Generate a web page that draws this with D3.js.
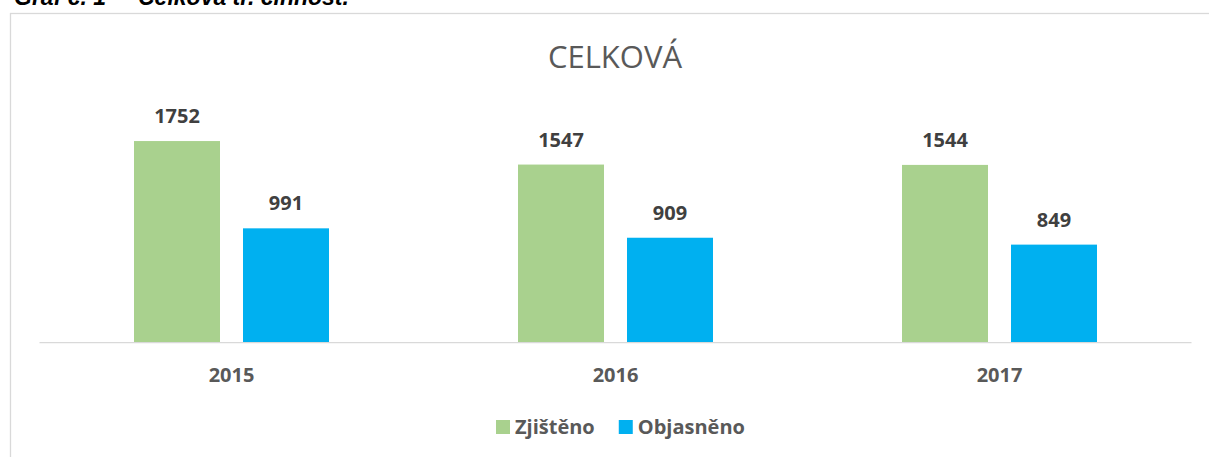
<!DOCTYPE html>
<html lang="cs">
<head>
<meta charset="utf-8">
<script src="https://cdnjs.cloudflare.com/ajax/libs/d3/7.8.5/d3.min.js"></script>
<style>
body { margin: 0; background: #fff; }
svg { display: block; font-family: "Open Sans", sans-serif; }
</style>
</head>
<body>
<script>
var years = ["2015", "2016", "2017"]
var seriesNames = ["Zjištěno", "Objasněno"]
var zjisteno = [1752, 1547, 1544]
var objasneno = [991, 909, 849]
var colors = ["#a9d18e", "#00b0f0"]

var w = 1209, h = 457
var svg = d3.select("body").append("svg").attr("width", w).attr("height", h)

// caption above the chart, mostly cut off
svg.append("text")
    .attr("x", 14).attr("y", 5)
    .attr("font-family", "Liberation Sans, Arial, sans-serif")
    .attr("font-style", "italic").attr("font-weight", "bold")
    .attr("font-size", 23).attr("fill", "#000")
    .attr("xml:space", "preserve")
    .text("Graf č. 1 –  Celková tr. činnost.")

// chart frame
svg.append("rect")
    .attr("x", 10.5).attr("y", 13.5)
    .attr("width", 1210).attr("height", 460)
    .attr("fill", "#fff").attr("stroke", "#d9d9d9").attr("stroke-width", 1.3)

svg.append("text")
    .attr("x", 615).attr("y", 68)
    .attr("text-anchor", "middle")
    .attr("font-size", 31).attr("fill", "#595959")
    .text("CELKOVÁ")

var x0 = d3.scaleBand().domain(years).range([39.5, 1191.5])
var y = d3.scaleLinear().domain([0, 2000]).range([342, 342 - 229.4])

var barW = 86, gap = 23
var data = years.map(function(yr, i) {
    return { year: yr, values: [zjisteno[i], objasneno[i]] }
})

var groups = svg.selectAll("g.year")
    .data(data)
    .enter()
    .append("g")
    .attr("class", "year")
    .attr("transform", function(d) {
        return "translate(" + (x0(d.year) + x0.bandwidth() / 2) + ",0)"
    })

groups.selectAll("rect")
    .data(function(d) { return d.values })
    .enter()
    .append("rect")
    .attr("x", function(d, i) { return i === 0 ? -barW - gap / 2 : gap / 2 })
    .attr("y", function(d) { return y(d) })
    .attr("width", barW)
    .attr("height", function(d) { return y(0) - y(d) })
    .attr("fill", function(d, i) { return colors[i] })

groups.selectAll("text.val")
    .data(function(d) { return d.values })
    .enter()
    .append("text")
    .attr("class", "val")
    .attr("x", function(d, i) { return i === 0 ? -barW / 2 - gap / 2 : barW / 2 + gap / 2 })
    .attr("y", function(d) { return y(d) - 18 })
    .attr("text-anchor", "middle")
    .attr("font-size", 20).attr("font-weight", "bold").attr("fill", "#404040")
    .text(function(d) { return d })

// baseline
svg.append("line")
    .attr("x1", 39.5).attr("x2", 1191.5)
    .attr("y1", 342.7).attr("y2", 342.7)
    .attr("stroke", "#d9d9d9").attr("stroke-width", 1.3)

var xAxis = d3.axisBottom(x0).tickSize(0).tickPadding(0)
var ax = svg.append("g").attr("transform", "translate(0,382)").call(xAxis)
ax.select(".domain").remove()
ax.selectAll("text")
    .attr("dy", 0)
    .attr("font-family", "Open Sans, sans-serif")
    .attr("font-size", 20).attr("font-weight", "bold").attr("fill", "#595959")

// legend
var legend = svg.append("g")
var lx = 496
seriesNames.forEach(function(name, i) {
    legend.append("rect")
        .attr("x", lx).attr("y", 420)
        .attr("width", 14).attr("height", 14)
        .attr("fill", colors[i])
    var t = legend.append("text")
        .attr("x", lx + 19).attr("y", 434)
        .attr("font-size", 20).attr("font-weight", "bold").attr("fill", "#595959")
        .text(name)
    lx = lx + 19 + t.node().getComputedTextLength() + 24
})
</script>
</body>
</html>
